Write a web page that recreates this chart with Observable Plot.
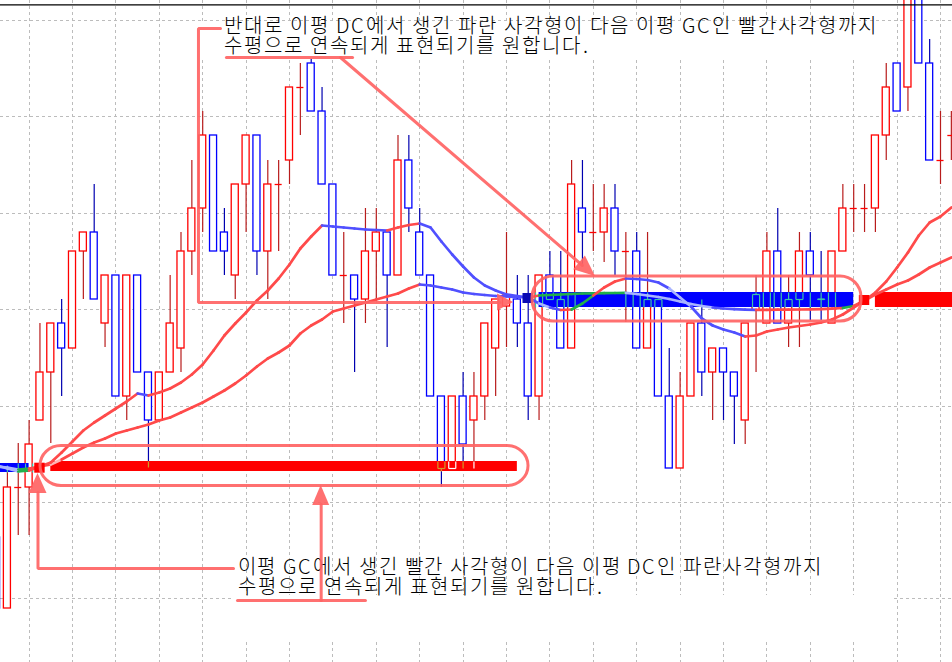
<!DOCTYPE html>
<html>
<head>
<meta charset="utf-8">
<script src="https://cdn.jsdelivr.net/npm/d3@7"></script>
<script src="https://cdn.jsdelivr.net/npm/@observablehq/plot@0.6"></script>
<style>
  @font-face {
    font-family: "NoteKR";
    src: local("Noto Sans CJK KR Light"), local("NotoSansCJKkr-Light"),
         local("Noto Sans CJK KR"), local("Noto Sans CJK KR Regular"), local("NotoSansCJKkr-Regular");
    ascent-override: 86%;
    descent-override: 12%;
    line-gap-override: 0%;
  }
  html, body { margin: 0; padding: 0; background: #fff; }
  #chart svg { display: block; }
</style>
</head>
<body>
<div id="chart"></div>
<script>
// ------------------------------------------------------------------
// DATA (price unit is arbitrary)
// ------------------------------------------------------------------
const candleIndex = d3.range(-1, 88); // bar number, -1 .. 87

const opens  = [125, 54,175,175,242,290,339,314,411,430, 339,387,266,387,290,242,290,314,411,454,
                527,430,387,478,527,411,478,502,575,599, 551,478,387,387,363,411,430,387,502,430,
                387,266,194,266,242,266,314,356,363,339, 266,387,363,314,454,430,430,454,411,411,
                314,363,266,194,266,339,290,314,290,242, 352,339,411,339,363,411,363.5,339,411,454,
                454,454,527,599,575,680,599,502,527];
const highs  = [125,197,219,242,339,339,363,411,430,478, 387,387,387,387,290,290,387,430,502,551,
                527,454,478,527,527,502,502,575,599,603, 575,478,430,387,454,454,430,527,527,454,
                387,266,266,290,290,339,363,430,387,387, 387,411,411,502,502,478,478,478,430,430,
                430,363,314,290,339,363,314,314,290,339, 387,430,454,387,430,430,411,411,478,478,
                478,527,599,599,690,690,623,551,551];
const lows   = [ 54, 54,127,127,242,219,266,314,363,363, 315,266,242,290,195,242,290,290,387,430,
                411,387,363,430,387,363,411,478,527,551, 478,387,339,290,339,363,315,387,430,387,
                266,175,194,194,194,242,266,315,315,242, 242,363,314,314,395,411,400,387,340,314,
                314,266,194,194,266,266,242,242,218,218, 290,339,339,315,315,342,342,339,411,430,
                430,430,502,551,551,599,502,478,502];
const closes = [ 54,175,175,218,290,339,314,411,430,363, 387,266,387,290,242,290,339,411,454,527,
                411,411,478,527,411,478,478,575,575,551, 478,387,387,363,411,430,387,502,454,387,
                266,194,266,218,266,339,363,367,339,266, 387,363,314,478,430,430,454,411,411,314,
                363,266,194,266,339,290,314,290,266,339, 368,411,339,363,411,387,363,411,454,454,
                454,527,575,551,680,599,502,502,527];

// two moving averages (value at each bar)
const maFast = [197,194,191,192,196,200,210,221,232,240, 247,254,261,269,267,270,274,280,288,298,
                312,327,339,350,362,372,384,398,414,426, 437,436,435,434,433,432.5,432,435,437.5,439,
                435,421,408,396,385,377,372,368,366.5,365, 359,355,352.5,353,359,367,375,381,384,383.5,
                382.5,380,374,365,356,344,337,333,330,326, 327,331,333,335,336.5,338,340,343,348,355,
                362,370,381,395,410,427,440,446,455];
const maSlow = [196,195,193,194,196,198,203,209,215,220, 224,229,232,235,238,242,245,250,255,260,
                266,272,279,287,296,304,310,317,329,337, 343,351,354,357,360,363,366,369,374,378,
                377,375,373,370,368.5,367.5,366.5,366,365.5,365, 367,367.5,368,368.5,369,369.2,369.4,369.5,369.6,368.5,
                367,365.5,363.5,361,358.5,356.5,355,354,353.3,352.8, 352.6,352.7,352.8,352.9,353,353.2,353.4,353.8,354.5,356.5,
                362,368,373,378,382,388,395,400,405];

// golden / dead cross markers
const crossIndex = [3, 48, 79];
const crossKind  = ["GC", "DC", "GC"];
const crossPrice = [194.3, 364, 362];

// horizontal boxes drawn by the indicator (from one cross to the next)
const bandKind  = ["DC", "GC", "DC", "GC"];
const bandStart = [-1.5, 4, 49, 80];
const bandEnd   = [2, 47, 78, 88];
const bandLow   = [190, 191, 355, 355];
const bandHigh  = [199, 201, 370, 370];

// grid
const gridBars   = [2,6,10,14,18,22,26,30,34,38,42,46,50,54,58,62,66,70,74,78,82,86];
const gridPrices = [642, 545.6, 449.2, 352.8, 256.4, 160, 63.6];

// notes
const topNote    = ["반대로 이평 DC에서 생긴 파란 사각형이 다음 이평 GC인 빨간사각형까지",
                    "수평으로 연속되게 표현되기를 원합니다."];
const bottomNote = ["이평 GC에서 생긴 빨간 사각형이 다음 이평 DC인 파란사각형까지",
                    "수평으로 연속되게 표현되기를 원합니다."];

// ------------------------------------------------------------------
// LAYOUT / STYLE
// ------------------------------------------------------------------
const W = 952, H = 662;
const xDomain = [-0.636, 87.106];
const yDomain = [0, 662];
const hw = 0.325;                 // candle body half width (bars)
const C = {
  upBody: "#ff0000", upWick: "#b81c1c", dnBody: "#0000ff", dnWick: "#0000b0",
  maUp: "#ff4a4a", maDn: "#5050ff",
  bandGC: "#ff0000", bandDC: "#0000ff",
  sqGC: "#ff0000", sqDC: "#0a0ab4",
  anno: "#ff6464", grid: "#bcbcbc"
};
const font = "NoteKR, 'Noto Sans CJK KR', 'Noto Sans', sans-serif";

// annotation geometry, in bar / price units
const annoLines = [
  [[19.64,634],[17.61,634],[17.61,360],[45.4,360]],      // top elbow arrow
  [[20.19,605],[31.81,605]],                              // top underline
  [[30.70,605],[53.0,397]],                               // diagonal arrow
  [[20.84,94],[2.82,94],[2.82,170]],                      // bottom elbow arrow
  [[21.21,62],[33.0,62]],                                 // bottom underline
  [[28.92,62],[28.92,158]]                                // bottom vertical arrow
];
const annoHeads = [
  {x: 46.65, y: 360, fx: 45.0, fy: 360, len: 16, w: 8.5},
  {x: 54.20, y: 386, fx: 30.70, fy: 605, len: 21, w: 9},
  {x: 2.82, y: 189, fx: 2.82, fy: 170, len: 20, w: 9},
  {x: 28.92, y: 177, fx: 28.92, fy: 158, len: 20, w: 8.5}
];
const stadiums = [
  {x1: 48.40, x2: 78.72, y1: 341, y2: 386},
  {x1: 3.05,  x2: 48.03, y1: 176.5, y2: 216.5}
];
const noteBoxes = [
  {x1: 17.8, x2: 80.47, y1: 604, y2: 641},
  {x1: 20.84, x2: 81.67, y1: 22, y2: 67}
];
// each note is one text block of two lines
const notes = [
  {text: topNote.join("\n"), x: 19.92, y: 625.5},
  {text: bottomNote.join("\n"), x: 21.21, y: 85}
];
const lineWidths = new Map([
  [topNote[0], 652], [topNote[1], 364], [bottomNote[0], 583]
]);

// ------------------------------------------------------------------
// DERIVED TABLES
// ------------------------------------------------------------------
const candles = candleIndex.map((i, k) => ({
  i, o: opens[k], h: highs[k], l: lows[k], c: closes[k], up: closes[k] >= opens[k]
}));
const bodies = candles.filter(d => d.o !== d.c);
const dojis  = candles.filter(d => d.o === d.c);

const bands = bandKind.map((kind, k) => ({
  kind, start: bandStart[k], end: bandEnd[k], lo: bandLow[k], hi: bandHigh[k],
  color: kind === "GC" ? C.bandGC : C.bandDC
}));

const squares = crossIndex.map((i, k) => ({
  i, p: crossPrice[k], color: crossKind[k] === "GC" ? C.sqGC : C.sqDC
}));

// candle outlines showing through the boxes
const overlay = [];
for (const c of candles) {
  for (const b of bands) {
    if (c.i < b.start || c.i > b.end) continue;
    const top = Math.max(c.o, c.c), bot = Math.min(c.o, c.c);
    const col = b.kind === "DC" ? "#3cc3a8" : (c.up ? "#ffffff" : "#d09a28");
    const seg = (a, z, x) => {
      const lo = Math.max(a, b.lo), hi = Math.min(z, b.hi);
      if (hi > lo) overlay.push({x1: x, x2: x, y1: lo, y2: hi, color: col});
    };
    seg(top, c.h, c.i);
    seg(c.l, bot, c.i);
    if (top > bot) { seg(bot, top, c.i - hw); seg(bot, top, c.i + hw); }
    for (const y of (top > bot ? [top, bot] : [top]))
      if (y >= b.lo && y <= b.hi) overlay.push({x1: c.i - hw, x2: c.i + hw, y1: y, y2: y, color: col});
  }
}

// moving-average segments: red rising, blue falling, recoloured inside boxes
function maSegments(vals) {
  const segs = [];
  for (let k = 0; k < vals.length - 1; k++) {
    const i = candleIndex[k], v1 = vals[k], v2 = vals[k + 1];
    const m = i + 0.5, vm = (v1 + v2) / 2, up = v2 >= v1;
    const b = bands.find(b => m >= b.start && m <= b.end && vm >= b.lo && vm <= b.hi);
    let color = up ? C.maUp : C.maDn;
    if (b) color = b.kind === "DC" ? (up ? "#22b04a" : "#a8b4ff") : "#ffb4b4";
    segs.push({x1: i, y1: v1, x2: i + 1, y2: v2, color});
  }
  return segs;
}
const maSegs = [...maSegments(maSlow), ...maSegments(maFast)];

const annoPoints = annoLines.flatMap((pts, id) => pts.map(([x, y]) => ({id, x, y})));

// arrow heads, drawn through the plot's scales
function arrowHeads(index, scales) {
  const ns = "http://www.w3.org/2000/svg";
  const g = document.createElementNS(ns, "g");
  for (const a of annoHeads) {
    const tx = scales.x(a.x), ty = scales.y(a.y);
    const fx = scales.x(a.fx), fy = scales.y(a.fy);
    const ang = Math.atan2(ty - fy, tx - fx);
    const bx = tx - a.len * Math.cos(ang), by = ty - a.len * Math.sin(ang);
    const px = -Math.sin(ang) * a.w, py = Math.cos(ang) * a.w;
    const p = document.createElementNS(ns, "path");
    p.setAttribute("d", `M${tx},${ty}L${bx + px},${by + py}L${bx - px},${by - py}Z`);
    p.setAttribute("fill", C.anno);
    p.setAttribute("fill-opacity", 0.92);
    g.appendChild(p);
  }
  return g;
}

// ------------------------------------------------------------------
// PLOT
// ------------------------------------------------------------------
const chart = Plot.plot({
  width: W, height: H, margin: 0,
  x: {domain: xDomain, axis: null},
  y: {domain: yDomain, axis: null},
  color: {type: "identity"},
  style: {background: "#fff", overflow: "hidden"},
  marks: [
    // grid
    Plot.ruleX(gridBars, {stroke: C.grid, strokeDasharray: "3,3", shapeRendering: "crispEdges"}),
    Plot.ruleY(gridPrices, {stroke: C.grid, strokeDasharray: "3,3", shapeRendering: "crispEdges"}),
    // candles
    Plot.ruleX(candles, {x: "i", y1: "l", y2: "h", stroke: d => d.up ? C.upWick : C.dnWick, strokeWidth: 1.2}),
    Plot.rect(bodies, {x1: d => d.i - hw, x2: d => d.i + hw, y1: "o", y2: "c",
      fill: "#fff", stroke: d => d.up ? C.upBody : C.dnBody, strokeWidth: 1.3}),
    Plot.ruleY(dojis, {y: "o", x1: d => d.i - hw, x2: d => d.i + hw,
      stroke: d => d.up ? C.upBody : C.dnBody, strokeWidth: 1.3}),
    // indicator boxes
    Plot.rect(bands, {x1: "start", x2: "end", y1: "lo", y2: "hi", fill: "color"}),
    Plot.link(overlay, {x1: "x1", y1: "y1", x2: "x2", y2: "y2", stroke: "color", strokeWidth: 1.2}),
    // moving averages
    Plot.link(maSegs, {x1: "x1", y1: "y1", x2: "x2", y2: "y2", stroke: "color",
      strokeWidth: 2.7, strokeLinecap: "round"}),
    // cross markers
    Plot.rect(squares, {x1: d => d.i - 0.48, x2: d => d.i + 0.48, y1: d => d.p - 5, y2: d => d.p + 5, fill: "color"}),
    // notes
    Plot.rect(noteBoxes, {x1: "x1", x2: "x2", y1: "y1", y2: "y2", fill: "#fff"}),
    Plot.text(notes, {x: "x", y: "y", text: "text", textAnchor: "start", lineHeight: 1,
      fontSize: 20, fontFamily: font, fill: "#000"}),
    // annotations
    Plot.rect(stadiums, {x1: "x1", x2: "x2", y1: "y1", y2: "y2", rx: 21,
      fill: "none", stroke: C.anno, strokeWidth: 3, strokeOpacity: 0.92}),
    Plot.line(annoPoints, {x: "x", y: "y", z: "id", stroke: C.anno, strokeWidth: 3,
      strokeOpacity: 0.92, strokeLinejoin: "miter", curve: "linear"}),
    arrowHeads,
    // window top border
    Plot.ruleY([657.6], {stroke: "#000", strokeWidth: 1.4})
  ]
});

// fit note lines to their measured widths
d3.select(chart).selectAll("tspan, text").each(function () {
  if (this.children && this.children.length) return;
  const w = lineWidths.get(this.textContent);
  if (w) this.setAttribute("textLength", w);
});

document.getElementById("chart").appendChild(chart);
</script>
</body>
</html>
